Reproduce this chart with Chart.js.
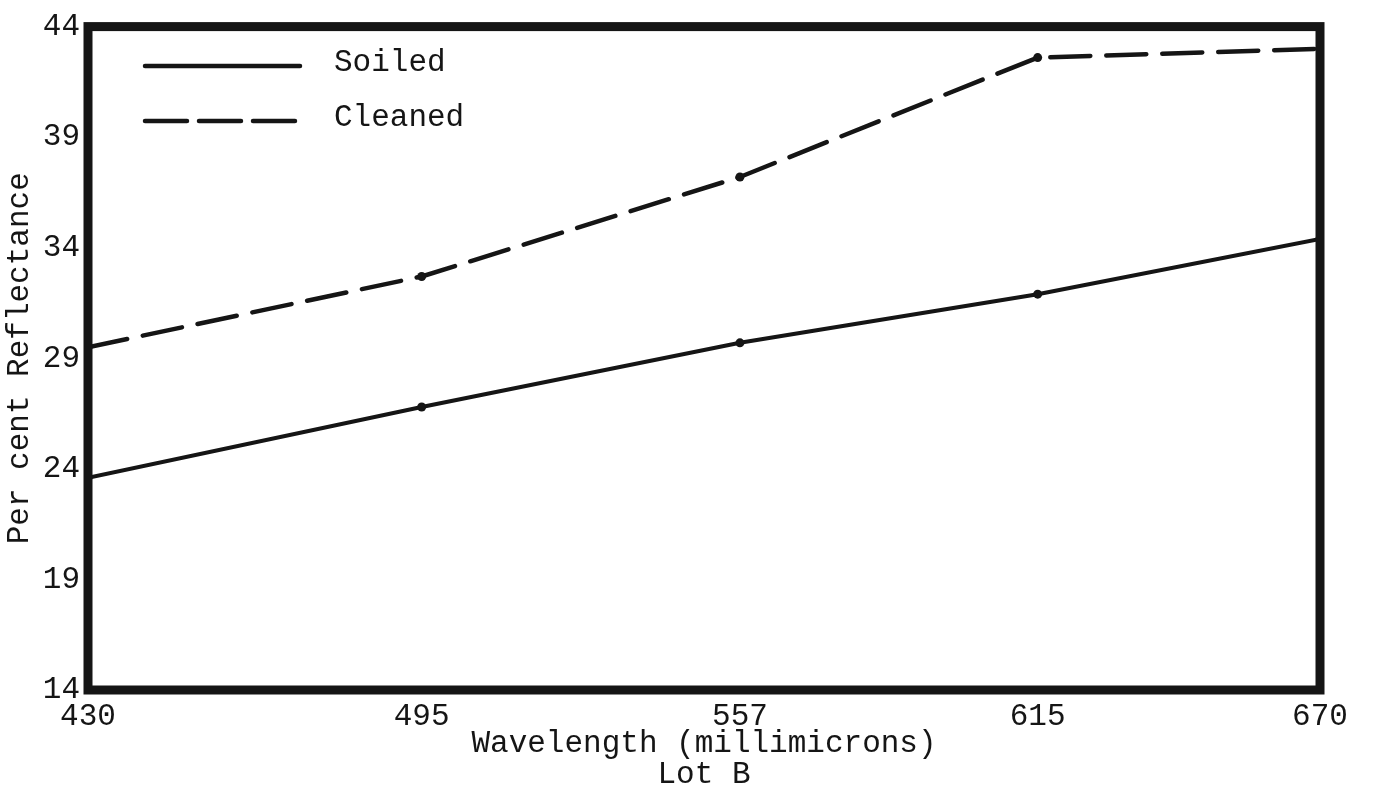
<!DOCTYPE html>
<html>
<head>
<meta charset="utf-8">
<script src="https://cdn.jsdelivr.net/npm/chart.js@4/dist/chart.umd.min.js"></script>
<style>
    html, body { margin: 0; padding: 0; background: #ffffff; }
    #wrap { width: 1374px; height: 793px; position: relative; }
</style>
</head>
<body>
<div id="wrap"><canvas id="grafico"></canvas></div>
<script>
// Datos
var longitudesOnda = [430, 495, 557, 615, 670];
var sucio = [23.6, 26.8, 29.7, 31.9, 34.4];
var limpio = [29.5, 32.7, 37.2, 42.6, 43.0];
var ticksY = [14, 19, 24, 29, 34, 39, 44];

var fuente = '"Liberation Mono", "DejaVu Sans Mono", monospace';
var tinta = '#151515';

document.addEventListener('DOMContentLoaded', function() {
    var ctx = document.getElementById('grafico').getContext('2d');

    function puntos(valores) {
        return valores.map(function(v, i) { return { x: longitudesOnda[i], y: v }; });
    }

    // Marco grueso y leyenda dibujada dentro del área
    var marcoYLeyenda = {
        id: 'marcoYLeyenda',
        afterDatasetsDraw: function(chart) {
            var a = chart.chartArea;
            var c = chart.ctx;
            c.save();
            c.strokeStyle = tinta;
            c.lineWidth = 9;
            c.lineJoin = 'miter';
            c.strokeRect(a.left, a.top, a.right - a.left, a.bottom - a.top);

            var items = [
                { texto: chart.data.datasets[0].label, dash: [], y: 66 },
                { texto: chart.data.datasets[1].label, dash: [42, 12], y: 121 }
            ];
            c.lineWidth = 4.5;
            c.lineCap = 'round';
            items.forEach(function(it) {
                c.setLineDash(it.dash);
                c.beginPath();
                c.moveTo(145, it.y);
                c.lineTo(300, it.y);
                c.stroke();
            });
            c.setLineDash([]);
            c.fillStyle = tinta;
            c.font = '31px ' + fuente;
            c.textBaseline = 'middle';
            c.textAlign = 'left';
            items.forEach(function(it) {
                c.fillText(it.texto, 334, it.y - 3);
            });
            c.restore();
        }
    };

    var grafico = new Chart(ctx, {
        type: 'line',
        data: {
            datasets: [{
                label: 'Soiled',
                data: puntos(sucio),
                borderColor: tinta,
                backgroundColor: tinta,
                borderWidth: 4,
                borderCapStyle: 'round',
                pointRadius: 4.5,
                pointBorderWidth: 0,
                pointBackgroundColor: tinta,
                tension: 0
            }, {
                label: 'Cleaned',
                data: puntos(limpio),
                borderColor: tinta,
                backgroundColor: tinta,
                borderWidth: 4.5,
                borderDash: [40, 16],
                borderCapStyle: 'round',
                pointRadius: 4.5,
                pointBorderWidth: 0,
                pointBackgroundColor: tinta,
                tension: 0
            }]
        },
        options: {
            responsive: true,
            maintainAspectRatio: false,
            animation: false,
            layout: { padding: { left: 0, right: 54, top: 24, bottom: 0 } },
            plugins: {
                legend: { display: false },
                tooltip: { enabled: false }
            },
            scales: {
                x: {
                    type: 'linear',
                    min: 430,
                    max: 670,
                    afterBuildTicks: function(scale) {
                        scale.ticks = longitudesOnda.map(function(v) { return { value: v }; });
                    },
                    afterFit: function(scale) { scale.height = 103; },
                    grid: { display: false, drawTicks: false },
                    border: { display: false },
                    ticks: {
                        autoSkip: false,
                        maxRotation: 0,
                        padding: 8,
                        color: tinta,
                        font: { family: fuente, size: 31 },
                        callback: function(v) { return String(v); }
                    },
                    title: {
                        display: true,
                        text: ['Wavelength (millimicrons)', 'Lot B'],
                        color: tinta,
                        font: { family: fuente, size: 31, lineHeight: 1 },
                        padding: { top: 0, bottom: 3 }
                    }
                },
                y: {
                    min: 14,
                    max: 44,
                    afterBuildTicks: function(scale) {
                        scale.ticks = ticksY.map(function(v) { return { value: v }; });
                    },
                    afterFit: function(scale) { scale.width = 88; },
                    grid: { display: false, drawTicks: false },
                    border: { display: false },
                    ticks: {
                        padding: 8,
                        color: tinta,
                        font: { family: fuente, size: 31 }
                    },
                    title: {
                        display: true,
                        text: 'Per cent Reflectance',
                        color: tinta,
                        font: { family: fuente, size: 31, lineHeight: 1 },
                        padding: { top: 4, bottom: 0 }
                    }
                }
            }
        },
        plugins: [marcoYLeyenda]
    });
});
</script>
</body>
</html>
